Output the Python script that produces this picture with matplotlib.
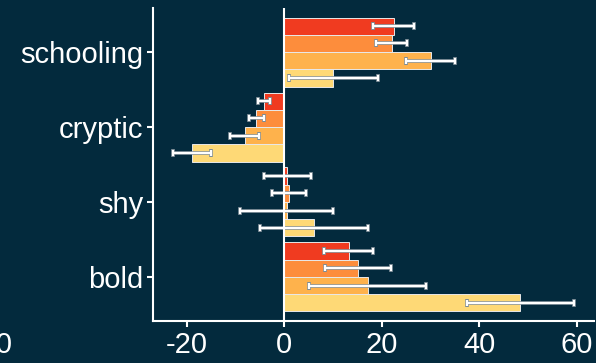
import numpy as np
import matplotlib.pyplot as plt

plt.rcParams["font.family"] = ["Liberation Sans", "DejaVu Sans"]
plt.rcParams["axes.unicode_minus"] = False

bg = "#032a3d"
fg = "white"

categories = ["schooling", "cryptic", "shy", "bold"]
series_colors = ["#f03b20", "#fd8d3c", "#feb24c", "#fed976"]

# effect estimates per category, one row per series (top bar first)
estimates = [
    [22.4, -4.2, 0.6, 13.2],
    [22.0, -5.7, 1.0, 15.1],
    [30.0, -8.1, 0.5, 17.1],
    [10.1, -19.0, 6.1, 48.4],
]
errors = [
    [4.2, 1.2, 4.8, 5.0],
    [3.2, 1.5, 3.5, 6.7],
    [5.0, 3.0, 9.5, 12.0],
    [9.2, 3.9, 11.1, 11.0],
]
xticks = [-20, 0, 20, 40, 60]

fig = plt.figure(figsize=(5.96, 3.63), dpi=100, facecolor=bg)
ax = fig.add_axes([153 / 596, 1 - 321 / 363, 441 / 596, 313 / 363])
ax.set_facecolor(bg)

ypos = np.arange(len(categories))[::-1]
height = 0.23
offsets = [1.5 * height, 0.5 * height, -0.5 * height, -1.5 * height]

for vals, errs, color, off in zip(estimates, errors, series_colors, offsets):
    y = ypos + off
    ax.barh(y, vals, height=height, color=color, edgecolor="#e8e8e8",
            linewidth=0.7, zorder=2)
    # faint grey halo under the white whiskers
    ax.errorbar(vals, y, xerr=errs, fmt="none", ecolor="#7d8d97",
                elinewidth=2.6, capsize=2.8, capthick=2.6, zorder=3)
    ax.errorbar(vals, y, xerr=errs, fmt="none", ecolor=fg,
                elinewidth=1.6, capsize=2.5, capthick=1.6, zorder=4)

ax.axvline(0, color=fg, linewidth=1.5, zorder=5)

ax.set_xlim(-26.9, 63.5)
ax.set_ylim(-0.587, 3.587)
ax.set_yticks(ypos)
ax.set_yticklabels(categories)
ax.set_xticks(xticks)

for side in ["top", "right"]:
    ax.spines[side].set_visible(False)
for side in ["left", "bottom"]:
    ax.spines[side].set_color(fg)
    ax.spines[side].set_linewidth(1.5)

ax.tick_params(colors=fg, labelsize=21, width=1.5, length=4, pad=3)

# leftmost tick label, sitting past the figure edge
ax.annotate("-60", xy=(-60, 0), xycoords=ax.get_xaxis_transform(),
            xytext=(0, -7), textcoords="offset points", ha="center",
            va="top", color=fg, fontsize=21, annotation_clip=False)

fig.savefig("out.png", dpi=100, facecolor=bg)
